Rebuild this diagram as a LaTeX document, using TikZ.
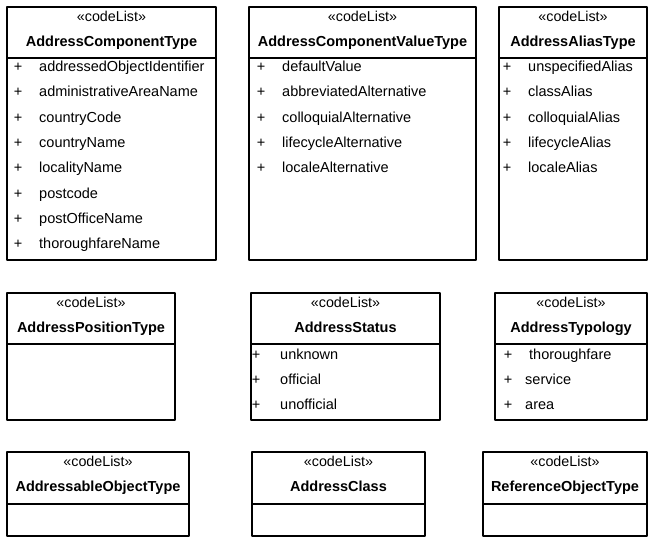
\documentclass[tikz,border=0pt]{standalone}
\usepackage{fontspec}
\setmainfont{Liberation Sans}
\usetikzlibrary{positioning}

\begin{document}
\begin{tikzpicture}[line cap=round,line join=round,x=1pt,y=-1pt,
  box/.style={line width=1.2pt,color=black},
  stereo/.style={font=\fontsize{14.3}{16}\selectfont,anchor=base,inner sep=0pt},
  title/.style={font=\fontsize{14.5}{16}\selectfont\bfseries,anchor=base,inner sep=0pt},
  item/.style={font=\fontsize{14.5}{16}\selectfont,anchor=base west,inner sep=0pt},
  plus/.style={font=\fontsize{14.5}{16}\selectfont,anchor=base,inner sep=0pt}]

		\useasboundingbox (0,0) rectangle (652,542);

		%laatikot: nimi/vasen/yla/oikea/ala/viiva/otsikko
		\foreach \n/\xa/\ya/\xb/\yb/\yl/\t in {
		  b1/7/7/216/260/58/AddressComponentType,
		  b2/249/7/476/260/58/AddressComponentValueType,
		  b3/499/7/647/260/58/AddressAliasType,
		  b4/7/293/175/420/344/AddressPositionType,
		  b5/251/293/440/420/344/AddressStatus,
		  b6/495/293/647/420/344/AddressTypology,
		  b7/7/452/189/536/504/AddressableObjectType,
		  b8/252/452/425/536/504/AddressClass,
		  b9/483/452/647/536/504/ReferenceObjectType}
		{
		\draw[box] (\xa,\ya) rectangle (\xb,\yb);
		\draw[box] (\xa,\yl) -- (\xb,\yl);
		\node[stereo] (\n s) at ({(\xa+\xb)/2},\ya+14) {«codeList»};
		\node[title] (\n t) at ({(\xa+\xb)/2},\ya+39) {\t};
		}

		% AddressComponentType
		\foreach \txt [count=\k] in {addressedObjectIdentifier,administrativeAreaName,
		  countryCode,countryName,localityName,postcode,postOfficeName,thoroughfareName}
		{
		\node[plus] (b1p\k) at (18,{71.5+25.3*(\k-1)}) {+};
		\node[item] (b1i\k) at (39,{71.5+25.3*(\k-1)}) {\txt};
		}

		% AddressComponentValueType
		\foreach \txt [count=\k] in {defaultValue,abbreviatedAlternative,
		  colloquialAlternative,lifecycleAlternative,localeAlternative}
		{
		\node[plus] (b2p\k) at (261,{71.5+25.3*(\k-1)}) {+};
		\node[item] (b2i\k) at (282,{71.5+25.3*(\k-1)}) {\txt};
		}

		% AddressAliasType
		\foreach \txt [count=\k] in {unspecifiedAlias,classAlias,
		  colloquialAlias,lifecycleAlias,localeAlias}
		{
		\node[plus] (b3p\k) at (507,{71.5+25.3*(\k-1)}) {+};
		\node[item] (b3i\k) at (528,{71.5+25.3*(\k-1)}) {\txt};
		}

		% AddressStatus
		\foreach \txt [count=\k] in {unknown,official,unofficial}
		{
		\node[plus] (b5p\k) at (256,{359+25.3*(\k-1)}) {+};
		\node[item] (b5i\k) at (280,{359+25.3*(\k-1)}) {\txt};
		}

		% AddressTypology
		\foreach \txt/\xt [count=\k] in {thoroughfare/529,service/525,area/525}
		{
		\node[plus] (b6p\k) at (508,{359+25.3*(\k-1)}) {+};
		\node[item] (b6i\k) at (\xt,{359+25.3*(\k-1)}) {\txt};
		}

\end{tikzpicture}
\end{document}
